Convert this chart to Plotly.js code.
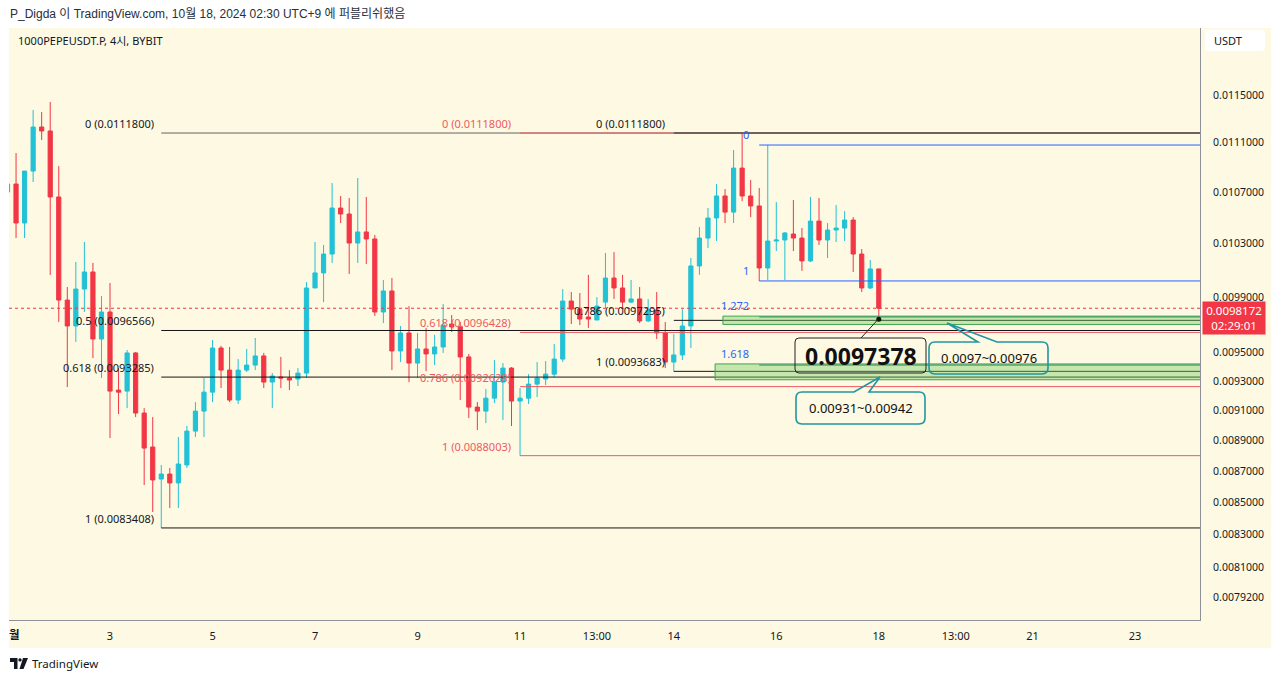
<!DOCTYPE html>
<html><head><meta charset="utf-8">
<script src="https://cdn.plot.ly/plotly-3.0.1.min.js"></script>
<style>html,body{margin:0;padding:0;background:#fff;}#chart{width:1280px;height:681px;}</style>
</head><body><div id="chart"></div>
<script>
// ---- candle data (4h candles, 1000PEPEUSDT.P, BYBIT), first candle 2024-10-01 01:00 ----
const openP = [0.010701,0.010765,0.010458,0.010869,0.011230,0.011197,0.010662,0.009877,0.009689,0.009958,0.010085,0.009596,
0.009790,0.009239,0.009232,0.009497,0.009083,0.008857,0.008649,0.008681,0.008624,0.008740,0.008962,0.009096,
0.009225,0.009532,0.009377,0.009171,0.009377,0.009412,0.009476,0.009294,0.009329,0.009322,0.009315,0.009356,
0.009966,0.010078,0.010220,0.010575,0.010528,0.010304,0.010389,0.010335,0.009790,0.009944,0.009511,0.009639,
0.009426,0.009525,0.009490,0.009539,0.009703,0.009682,0.009469,0.009123,0.009096,0.009184,0.009294,0.009391,
0.009164,0.009184,0.009280,0.009315,0.009349,0.009454,0.009870,0.009811,0.009754,0.009732,0.009862,0.010040,
0.009966,0.009862,0.009885,0.009725,0.009804,0.009639,0.009433,0.009483,0.009689,0.010130,0.010342,0.010497,
0.010670,0.010543,0.010893,0.010670,0.010591,0.010115,0.010319,0.010327,0.010373,0.010342,0.010168,0.010473,
0.010327,0.010404,0.010419,0.010481,0.010220,0.009966,0.010108];
const highP = [0.010781,0.011015,0.010869,0.011372,0.011355,0.011440,0.010909,0.009973,0.010160,0.010312,0.010153,0.009907,
0.010003,0.009391,0.009518,0.009504,0.009116,0.009056,0.008740,0.008720,0.008923,0.008996,0.009157,0.009322,
0.009589,0.009547,0.009539,0.009454,0.009525,0.009603,0.009497,0.009356,0.009469,0.009377,0.009391,0.010010,
0.010312,0.010289,0.010773,0.010670,0.010654,0.010813,0.010662,0.010366,0.010025,0.010040,0.009689,0.009833,
0.009639,0.009675,0.009625,0.009848,0.009768,0.009718,0.009490,0.009157,0.009246,0.009447,0.009426,0.009398,
0.009253,0.009349,0.009433,0.009440,0.009561,0.009958,0.009936,0.009929,0.010063,0.009899,0.010228,0.010235,
0.010063,0.010025,0.009973,0.009885,0.009936,0.009718,0.009632,0.009811,0.010190,0.010427,0.010575,0.010765,
0.010725,0.011040,0.011180,0.010797,0.010733,0.011081,0.010622,0.010389,0.010638,0.010419,0.010662,0.010654,
0.010458,0.010598,0.010551,0.010504,0.010258,0.010175,0.010108];
const lowP = [0.010685,0.010342,0.010342,0.010781,0.011122,0.010063,0.009718,0.009260,0.009575,0.009790,0.009461,0.009322,
0.008916,0.009076,0.009116,0.009056,0.008611,0.008440,0.0083408,0.008465,0.008465,0.008720,0.008923,0.008923,
0.009157,0.009253,0.009157,0.009144,0.009363,0.009377,0.009253,0.009116,0.009253,0.009239,0.009267,0.009322,
0.009966,0.009862,0.010153,0.010458,0.010070,0.010153,0.010145,0.009761,0.009710,0.009377,0.009433,0.009294,
0.009322,0.009370,0.009412,0.009497,0.009646,0.009171,0.009049,0.008969,0.009016,0.009150,0.009036,0.008996,
0.0088003,0.009144,0.009191,0.009273,0.009329,0.009433,0.009703,0.009696,0.009675,0.009732,0.009819,0.009885,
0.009819,0.009855,0.009710,0.009718,0.009596,0.009391,0.0093683,0.009447,0.009532,0.010063,0.010265,0.010319,
0.010458,0.010458,0.010630,0.010504,0.010018,0.010025,0.010243,0.010025,0.010243,0.010093,0.010160,0.010289,
0.010190,0.010312,0.010319,0.010085,0.009936,0.009958,0.0097378];
const closeP = [0.010765,0.010458,0.010869,0.011230,0.011197,0.010662,0.009877,0.009689,0.009958,0.010085,0.009596,0.009790,
0.009232,0.009225,0.009497,0.009083,0.008850,0.008643,0.008681,0.008624,0.008746,0.008962,0.009096,0.009225,
0.009532,0.009377,0.009171,0.009377,0.009412,0.009476,0.009294,0.009336,0.009322,0.009308,0.009356,0.009966,
0.010078,0.010220,0.010575,0.010528,0.010304,0.010389,0.010335,0.009790,0.009944,0.009511,0.009639,0.009426,
0.009525,0.009490,0.009539,0.009696,0.009682,0.009469,0.009123,0.009096,0.009184,0.009294,0.009391,0.009164,
0.009184,0.009280,0.009322,0.009349,0.009454,0.009870,0.009811,0.009739,0.009739,0.009833,0.010040,0.009966,
0.009862,0.009885,0.009725,0.009804,0.009639,0.009433,0.009483,0.009689,0.010130,0.010342,0.010497,0.010670,
0.010543,0.010893,0.010670,0.010591,0.010115,0.010319,0.010327,0.010381,0.010342,0.010168,0.010473,0.010327,
0.010404,0.010419,0.010481,0.010220,0.009966,0.010108,0.0098172];

// ---- axis labels ----
const xTickVals = ['2024-10-03 01:00','2024-10-05 01:00','2024-10-07 01:00','2024-10-09 01:00','2024-10-11 01:00','2024-10-12 13:00',
  '2024-10-14 01:00','2024-10-16 01:00','2024-10-18 01:00','2024-10-19 13:00','2024-10-21 01:00','2024-10-23 01:00'];
const xTickText = ['3','5','7','9','11','13:00','14','16','18','13:00','21','23'];
const yTickVals = [0.0115,0.0111,0.0107,0.0103,0.0099,0.0095,0.0093,0.0091,0.0089,0.0087,0.0085,0.0083,0.0081,0.00792];
const yTickText = ['0.0115000','0.0111000','0.0107000','0.0103000','0.0099000','0.0095000','0.0093000','0.0091000','0.0089000',
  '0.0087000','0.0085000','0.0083000','0.0081000','0.0079200'];

// ---- drawings (fib retracements / extensions / zones) ----
const fibBlackStart = '2024-10-04 01:00';
const fibBlackLevels = ['0','0.5','0.618','1'];
const fibBlackPrices = [0.0111800,0.0096566,0.0093285,0.0083408];
const fibRedStart = '2024-10-11 01:00';
const fibRedLevels = ['0','0.618','0.786','1'];
const fibRedPrices = [0.0111800,0.0096428,0.0092628,0.0088003];
const fibBlack2Start = '2024-10-14 01:00';
const fibBlack2Levels = ['0','0.786','1'];
const fibBlack2Prices = [0.0111800,0.0097295,0.0093683];
const fibBlueStart = '2024-10-15 17:00';
const fibBlueLevels = ['0','1'];
const fibBluePrices = [0.011081,0.010018];
const extLevels = ['1.272','1.618'];
const extLinePrices = [0.009754,0.009412];
const zoneStarts = ['2024-10-15 00:00','2024-10-14 20:20'];
const zoneLow = [0.0097,0.00931];
const zoneHigh = [0.00976,0.00942];
const zoneText = ['0.0097~0.00976','0.00931~0.00942'];
const markedLow = 0.0097378;

// ---- build ----
const t0 = Date.UTC(2024,9,1,1,0);
const stepMs = 4*3600*1000;
const fmt = ms => new Date(ms).toISOString().slice(0,16).replace('T',' ');
const times = openP.map((_,k)=>fmt(t0+k*stepMs));
const xStart = '2024-10-01 01:42', xEnd = '2024-10-24 07:24', lineEnd = '2024-10-25 12:00';
const lastT = times[times.length-1];
const lastClose = closeP[closeP.length-1];

const UP = '#22c1d6', DN = '#f23645', BG = '#fdf9e2';
const FONT = '"Noto Sans","Noto Sans CJK KR",sans-serif';
const FONT2 = '"Liberation Sans","Noto Sans CJK KR",sans-serif';
const TXT = '#131722';
const BLACK0 = '#666666', BLACK = '#161616', RED = '#ef5a62', BLUE = '#2962ff', TEAL = '#2196a3';

const PX = x => (x-9)/1191;
const PY = y => (620-y)/592;
const L10 = p => Math.log10(p);

const traces = [];
traces.push({type:'candlestick', x:times, open:openP, high:highP, low:lowP, close:closeP,
  increasing:{line:{color:UP,width:1},fillcolor:UP}, decreasing:{line:{color:DN,width:1},fillcolor:DN},
  whiskerwidth:0, hoverinfo:'skip', showlegend:false});

function hline(x0, p, color, width, dash){
  return {type:'scatter', mode:'lines', x:[x0,lineEnd], y:[p,p], line:{color, width:width||1, dash:dash||'solid'},
    hoverinfo:'skip', showlegend:false};
}
const anns = [];
function lab(x, p, text, color, xshift, yshift){
  anns.push({xref:'x', yref:'y', x, y:L10(p), text, showarrow:false, xanchor:'right', yanchor:'bottom',
    xshift, yshift: yshift===undefined?0:yshift, font:{size:11,color,family:FONT}});
}

fibBlackPrices.forEach((p,k)=>{ traces.push(hline(fibBlackStart,p,k===0?BLACK0:BLACK,1)); lab(fibBlackStart,p,fibBlackLevels[k]+' ('+p.toFixed(7)+')',TXT,-5); });
fibRedPrices.forEach((p,k)=>{ traces.push(hline(fibRedStart,p,RED,1)); lab(fibRedStart,p,fibRedLevels[k]+' ('+p.toFixed(7)+')',RED,-7); });
fibBlack2Prices.forEach((p,k)=>{ traces.push(hline(fibBlack2Start,p,k===0?'#555555':BLACK,k===0?1.5:1)); lab(fibBlack2Start,p,fibBlack2Levels[k]+' ('+p.toFixed(7)+')',TXT,-7); });
fibBluePrices.forEach((p,k)=>{ traces.push(hline(fibBlueStart,p,BLUE,1)); lab(fibBlueStart,p,fibBlueLevels[k],BLUE,-8,1); });

zoneLow.forEach((lo,k)=>{
  const hi = zoneHigh[k], xs = zoneStarts[k];
  traces.push({type:'scatter', mode:'lines', x:[xs,lineEnd,lineEnd,xs,xs], y:[lo,lo,hi,hi,lo], fill:'toself',
    fillcolor:'rgba(120,205,100,0.42)', line:{color:'#3fa34d',width:1}, hoverinfo:'skip', showlegend:false});
  traces.push(hline(fibBlueStart, extLinePrices[k], '#2f8f63', 1));
  lab(fibBlueStart, hi, extLevels[k], BLUE, -8, 1);
});

traces.push(hline(xStart, lastClose, DN, 1, 'dot'));
traces.push({type:'scatter', mode:'markers', x:[lastT], y:[markedLow], marker:{color:'#111',size:5}, hoverinfo:'skip', showlegend:false});

// callout boxes (pixel-drawn decorations)
function callout(x0,y0,x1,y1,r,tail){
  const P=(x,y)=>PX(x)+','+PY(y);
  let d='M'+P(x0+r,y0);
  if(tail){ d+=' L'+P(tail[0],y0)+' L'+P(tail[2],tail[3])+' L'+P(tail[1],y0); }
  d+=' L'+P(x1-r,y0)+' Q'+P(x1,y0)+' '+P(x1,y0+r)+' L'+P(x1,y1-r)+' Q'+P(x1,y1)+' '+P(x1-r,y1)+
     ' L'+P(x0+r,y1)+' Q'+P(x0,y1)+' '+P(x0,y1-r)+' L'+P(x0,y0+r)+' Q'+P(x0,y0)+' '+P(x0+r,y0)+' Z';
  return d;
}
const shapes = [
  {type:'rect', xref:'paper', yref:'paper', x0:0, x1:PX(1271), y0:PY(648), y1:1, fillcolor:BG, line:{width:0}, layer:'below'},
  {type:'path', xref:'paper', yref:'paper', path:callout(1205,30,1265,51,4), fillcolor:'#ffffff', line:{width:0}},
  {type:'path', xref:'paper', yref:'paper', path:callout(795,338,926,373,4), fillcolor:'rgba(0,0,0,0)', line:{color:'#222',width:1}},
  {type:'line', xref:'paper', yref:'paper', x0:PX(861), y0:PY(338), x1:PX(877.5), y1:PY(320), line:{color:'#222',width:1}},
  {type:'path', xref:'paper', yref:'paper', path:callout(929,342,1048,374,6,[978,997,947,323]), fillcolor:'rgba(0,0,0,0)', line:{color:TEAL,width:1.6}},
  {type:'path', xref:'paper', yref:'paper', path:callout(796,392,925,424,6,[854,869,880,377]), fillcolor:'rgba(0,0,0,0)', line:{color:TEAL,width:1.6}},
  // TradingView logo
  {type:'path', xref:'paper', yref:'paper', path:'M'+PX(10)+','+PY(658)+' L'+PX(17.5)+','+PY(658)+' L'+PX(17.5)+','+PY(669)+' L'+PX(14)+','+PY(669)+' L'+PX(14)+','+PY(662)+' L'+PX(10)+','+PY(662)+' Z', fillcolor:'#131722', line:{width:0}},
  {type:'circle', xref:'paper', yref:'paper', x0:PX(18.3), x1:PX(21.7), y0:PY(658.2), y1:PY(661.6), fillcolor:'#131722', line:{width:0}},
  {type:'path', xref:'paper', yref:'paper', path:'M'+PX(23)+','+PY(658)+' L'+PX(28)+','+PY(658)+' L'+PX(23.5)+','+PY(669)+' L'+PX(19.5)+','+PY(669)+' Z', fillcolor:'#131722', line:{width:0}}
];

anns.push(
  {xref:'paper', yref:'paper', x:PX(8), y:PY(13.5), xanchor:'left', yanchor:'middle', showarrow:false,
   text:'P_Digda 이 TradingView.com, 10월 18, 2024 02:30 UTC+9 에 퍼블리쉬했음', font:{size:12,color:'#2a2e39',family:FONT2}},
  {xref:'paper', yref:'paper', x:PX(16), y:PY(40), xanchor:'left', yanchor:'middle', showarrow:false,
   text:'1000PEPEUSDT.P, 4시, BYBIT', font:{size:11,color:TXT,family:FONT}},
  {xref:'paper', yref:'paper', x:PX(1212), y:PY(41), xanchor:'left', yanchor:'middle', showarrow:false,
   text:'USDT', font:{size:11,color:TXT,family:FONT}},
  {xref:'paper', yref:'paper', x:PX(14), y:PY(634), xanchor:'center', yanchor:'middle', showarrow:false,
   text:'<b>월</b>', font:{size:11.5,color:TXT,family:FONT}},
  {xref:'paper', yref:'y', x:PX(1201.5), y:L10(lastClose), xanchor:'left', yanchor:'top', yshift:7, showarrow:false,
   width:60, text:lastClose.toFixed(7)+'<br>02:29:01', align:'center', bgcolor:DN, borderpad:1, font:{size:11.5,color:'#ffffff',family:FONT}},
  {xref:'paper', yref:'paper', x:PX(860.5), y:PY(356), xanchor:'center', yanchor:'middle', showarrow:false,
   text:'<b>'+markedLow.toFixed(7)+'</b>', font:{size:23,color:'#111',family:FONT}},
  {xref:'paper', yref:'paper', x:PX(988.5), y:PY(358), xanchor:'center', yanchor:'middle', showarrow:false,
   text:zoneText[0], font:{size:13,color:'#111',family:FONT}},
  {xref:'paper', yref:'paper', x:PX(860.5), y:PY(408), xanchor:'center', yanchor:'middle', showarrow:false,
   text:zoneText[1], font:{size:13,color:'#111',family:FONT}},
  {xref:'paper', yref:'paper', x:PX(30), y:PY(663), xanchor:'left', yanchor:'middle', showarrow:false,
   text:'TradingView', font:{size:11.5,color:TXT,family:FONT}}
);

const layout = {
  width:1280, height:681, margin:{l:9,r:80,t:28,b:61,pad:0},
  paper_bgcolor:'#ffffff', plot_bgcolor:BG, showlegend:false, font:{family:FONT,color:TXT},
  xaxis:{type:'date', range:[xStart,xEnd], rangeslider:{visible:false}, showgrid:false, zeroline:false,
    showline:true, linecolor:'#8e9199', linewidth:1, tickmode:'array', tickvals:xTickVals, ticktext:xTickText,
    ticks:'', ticklabelstandoff:6, tickfont:{size:11,color:TXT,family:FONT}, fixedrange:true},
  yaxis:{type:'log', side:'right', range:[-2.10845,-1.91772], showgrid:false, zeroline:false,
    showline:true, linecolor:'#8e9199', linewidth:1, tickmode:'array', tickvals:yTickVals, ticktext:yTickText,
    ticks:'', ticklabelstandoff:10, tickfont:{size:10.5,color:TXT,family:FONT}, fixedrange:true},
  shapes, annotations:anns
};
Plotly.newPlot('chart', traces, layout, {staticPlot:true});
</script></body></html>
